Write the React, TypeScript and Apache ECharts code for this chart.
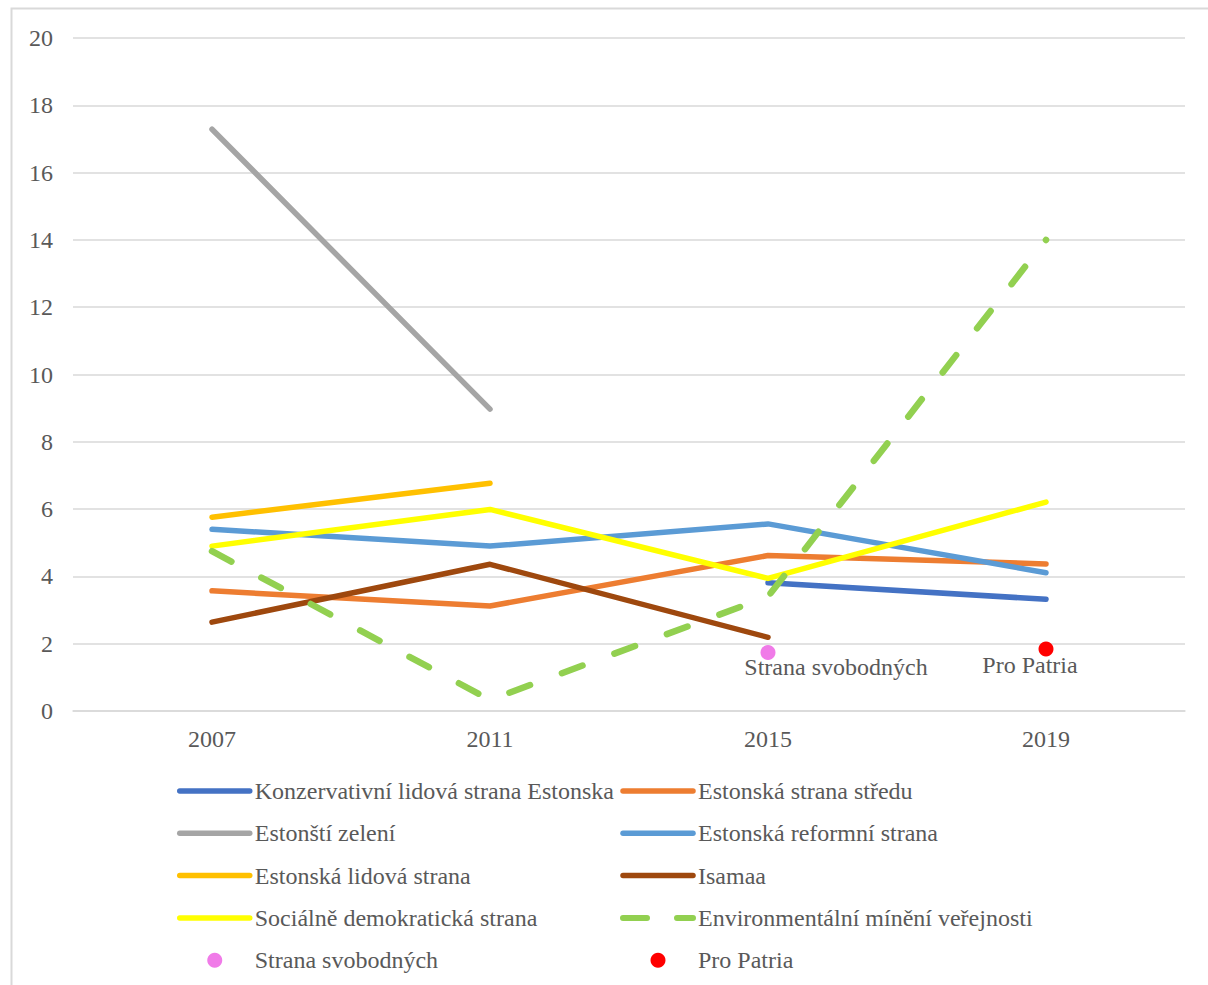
import React, { useEffect, useRef } from "react";
import * as echarts from "echarts";

const categories = ["2007", "2011", "2015", "2019"];
const konzervativni = [null, null, 3.81, 3.32];
const stredu = [3.57, 3.12, 4.62, 4.37];
const zeleni = [17.29, 8.97, null, null];
const reformni = [5.4, 4.9, 5.56, 4.11];
const lidova = [5.76, 6.77, null, null];
const isamaa = [2.64, 4.36, 2.19, null];
const socialne = [4.9, 5.99, 3.94, 6.21];
const environmentalni = [4.75, 0.33, 3.4, 14.0];
const svobodnych = [null, null, 1.74, null];
const proPatria = [null, null, null, 1.84];
const yTicks = { min: 0, max: 20, interval: 2 };

const FONT = "'Liberation Serif', 'Times New Roman', serif";
const TEXT = "#595959";
const GRID = "#D9D9D9";

const names = {
  k: "Konzervativní lidová strana Estonska",
  s: "Estonská strana středu",
  z: "Estonští zelení",
  r: "Estonská reformní strana",
  l: "Estonská lidová strana",
  i: "Isamaa",
  sd: "Sociálně demokratická strana",
  e: "Environmentální mínění veřejnosti",
  sv: "Strana svobodných",
  p: "Pro Patria",
};

const DASH = [22, 34];

function lineSeries(name: string, data: (number | null)[], color: string, extra: any = {}) {
  return {
    type: "line",
    name,
    data,
    symbol: "none",
    showSymbol: false,
    connectNulls: false,
    itemStyle: { color },
    lineStyle: { color, width: 5.5, cap: "round", join: "round", ...extra },
    emphasis: { disabled: true },
  };
}

function scatterSeries(name: string, data: (number | null)[], color: string, offset: number[]) {
  return {
    type: "scatter",
    name,
    data,
    symbol: "circle",
    symbolSize: 15,
    itemStyle: { color, opacity: 1 },
    label: {
      show: true,
      position: "inside",
      offset,
      formatter: name,
      fontFamily: FONT,
      fontSize: 24,
      color: TEXT,
    },
    emphasis: { disabled: true },
  };
}

function lineItem(name: string, dashed = false) {
  return {
    name,
    itemStyle: { opacity: 0 },
    lineStyle: { width: dashed ? 6 : 5.5, cap: "round", type: dashed ? [24, 30] : "solid" },
  };
}

function dotItem(name: string) {
  return { name, itemStyle: { opacity: 1 } };
}

function legendBox(left: number, data: any[]) {
  return {
    orient: "vertical",
    left,
    top: 777,
    padding: 0,
    itemWidth: 70,
    itemHeight: 15,
    itemGap: 14.3,
    selectedMode: false,
    textStyle: { fontFamily: FONT, fontSize: 24, color: TEXT, lineHeight: 28 },
    data,
  };
}

export default function App() {
  const ref = useRef<HTMLDivElement>(null);
  useEffect(() => {
    if (!ref.current) return;
    const chart = echarts.init(ref.current, null, { renderer: "svg" });
    chart.setOption({
      animation: false,
      backgroundColor: "#ffffff",
      graphic: [
        {
          type: "rect",
          shape: { x: 11.5, y: 8.5, width: 1400, height: 1200 },
          style: { fill: "none", stroke: GRID, lineWidth: 2 },
          silent: true,
        },
      ],
      grid: { left: 73, right: 23, top: 38, height: 673 },
      xAxis: {
        type: "category",
        data: categories,
        boundaryGap: true,
        axisLine: { show: true, lineStyle: { color: GRID, width: 1.5 } },
        axisTick: { show: false },
        axisLabel: { fontFamily: FONT, fontSize: 24, color: TEXT, margin: 16 },
      },
      yAxis: {
        type: "value",
        min: yTicks.min,
        max: yTicks.max,
        interval: yTicks.interval,
        axisLine: { show: false },
        axisTick: { show: false },
        splitLine: { lineStyle: { color: GRID, width: 1.5 } },
        axisLabel: { fontFamily: FONT, fontSize: 24, color: TEXT, margin: 20 },
      },
      legend: [
        legendBox(177, [
          lineItem(names.k),
          lineItem(names.z),
          lineItem(names.l),
          lineItem(names.sd),
          dotItem(names.sv),
        ]),
        legendBox(620, [
          lineItem(names.s),
          lineItem(names.r),
          lineItem(names.i),
          lineItem(names.e, true),
          dotItem(names.p),
        ]),
      ],
      series: [
        lineSeries(names.k, konzervativni, "#4472C4"),
        lineSeries(names.s, stredu, "#ED7D31"),
        lineSeries(names.z, zeleni, "#A5A5A5"),
        lineSeries(names.r, reformni, "#5B9BD5"),
        lineSeries(names.l, lidova, "#FFC000"),
        lineSeries(names.i, isamaa, "#9E480E"),
        lineSeries(names.sd, socialne, "#FFFF00"),
        lineSeries(names.e, environmentalni, "#92D050", { width: 6.5, type: DASH }),
        scatterSeries(names.sv, svobodnych, "#F07BE8", [68, 15]),
        scatterSeries(names.p, proPatria, "#FF0000", [-16, 16]),
      ],
    });
    return () => chart.dispose();
  }, []);
  return (
    <div
      ref={ref}
      style={{ position: "absolute", left: 0, top: 0, width: 1208, height: 985 }}
    />
  );
}
